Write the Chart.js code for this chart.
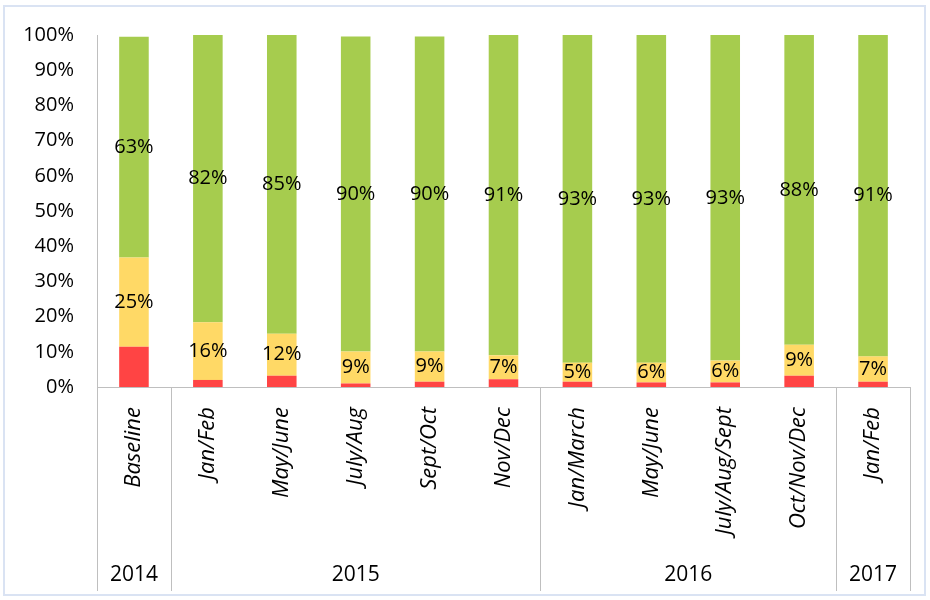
<!DOCTYPE html>
<html>
<head>
<meta charset="utf-8">
<script src="https://cdn.jsdelivr.net/npm/chart.js@4"></script>
<style>
  html, body { margin: 0; padding: 0; background: #fff; }
  #wrap { position: relative; width: 930px; height: 600px; }
  #frame { position: absolute; left: 3px; top: 5px; width: 919px; height: 587px; border: 2px solid #dae3f3; pointer-events: none; }
  canvas { position: absolute; left: 0; top: 0; }
</style>
</head>
<body>
<div id="wrap">
  <canvas id="c" width="930" height="600"></canvas>
  <div id="frame"></div>
</div>
<script>
const categories = ['Baseline', 'Jan/Feb', 'May/June', 'July/Aug', 'Sept/Oct', 'Nov/Dec',
                    'Jan/March', 'May/June', 'July/Aug/Sept', 'Oct/Nov/Dec', 'Jan/Feb'];
const yearLabels = ['2014', '2015', '2016', '2017'];
const yearSpans = [1, 5, 4, 1];
const redValues    = [11.4, 2.0, 3.2, 1.0, 1.5, 2.2, 1.5, 1.3, 1.3, 3.2, 1.5];
const yellowValues = [25.4, 16.4, 11.9, 9.1, 8.6, 6.8, 5.4, 5.6, 6.2, 8.8, 7.2];
const greenValues  = [62.7, 81.6, 84.9, 89.5, 89.5, 91.0, 93.1, 93.1, 92.5, 88.0, 91.3];
const yTicks = [0, 10, 20, 30, 40, 50, 60, 70, 80, 90, 100];

Chart.defaults.font.family = "'Open Sans', sans-serif";
Chart.defaults.font.size = 20;
Chart.defaults.color = '#000';

const segmentLabels = {
  id: 'segmentLabels',
  afterDatasetsDraw(chart) {
    const ctx = chart.ctx;
    ctx.save();
    ctx.font = "20px 'Open Sans', sans-serif";
    ctx.fillStyle = '#000';
    ctx.textAlign = 'center';
    ctx.textBaseline = 'middle';
    chart.data.datasets.forEach((ds, di) => {
      if (!ds.showLabels) return;
      chart.getDatasetMeta(di).data.forEach((el, i) => {
        const p = el.getProps(['x', 'y', 'base'], true);
        ctx.fillText(Math.round(ds.data[i]) + '%', p.x, (p.y + p.base) / 2);
      });
    });
    ctx.restore();
  }
};

const yearRow = {
  id: 'yearRow',
  afterDraw(chart) {
    const xs = chart.scales.x;
    const ctx = chart.ctx;
    const half = (xs.getPixelForValue(1) - xs.getPixelForValue(0)) / 2;
    ctx.save();
    ctx.strokeStyle = '#bfbfbf';
    ctx.lineWidth = 1;
    ctx.font = "21px 'Open Sans', sans-serif";
    ctx.fillStyle = '#000';
    ctx.textAlign = 'center';
    ctx.textBaseline = 'middle';
    let start = 0;
    const bounds = [xs.getPixelForValue(0) - half];
    yearSpans.forEach((span, g) => {
      const end = start + span - 1;
      const cx = (xs.getPixelForValue(start) + xs.getPixelForValue(end)) / 2;
      ctx.fillText(yearLabels[g], cx, xs.bottom - 16);
      bounds.push(xs.getPixelForValue(end) + half);
      start += span;
    });
    bounds.forEach(b => {
      const x = Math.round(b) + 0.5;
      ctx.beginPath();
      ctx.moveTo(x, xs.top);
      ctx.lineTo(x, xs.bottom);
      ctx.stroke();
    });
    ctx.restore();
  }
};

new Chart(document.getElementById('c'), {
  type: 'bar',
  data: {
    labels: categories,
    datasets: [
      { label: 'Red', data: redValues, backgroundColor: '#ff4444', showLabels: false },
      { label: 'Yellow', data: yellowValues, backgroundColor: '#ffd966', showLabels: true },
      { label: 'Green', data: greenValues, backgroundColor: '#a6cc4e', showLabels: true }
    ]
  },
  options: {
    responsive: false,
    animation: false,
    events: [],
    layout: { padding: { top: 35, right: 20, bottom: 9, left: 0 } },
    datasets: { bar: { barPercentage: 0.4, categoryPercentage: 1.0, borderWidth: 0 } },
    plugins: { legend: { display: false }, tooltip: { enabled: false } },
    scales: {
      x: {
        stacked: true,
        grid: { display: false, drawTicks: false },
        border: { display: true, color: '#bfbfbf', width: 1 },
        ticks: { autoSkip: false, maxRotation: 90, minRotation: 90, padding: 20,
                 font: { style: 'italic', size: 22 } },
        afterFit(scale) { scale.height = 204; }
      },
      y: {
        stacked: true,
        min: 0, max: 100,
        grid: { display: false, drawTicks: false },
        border: { display: true, color: '#bfbfbf', width: 1 },
        afterBuildTicks(scale) { scale.ticks = yTicks.map(v => ({ value: v })); },
        ticks: { padding: 23, callback: v => v + '%' },
        afterFit(scale) { scale.width = 97; }
      }
    }
  },
  plugins: [segmentLabels, yearRow]
});
</script>
</body>
</html>
